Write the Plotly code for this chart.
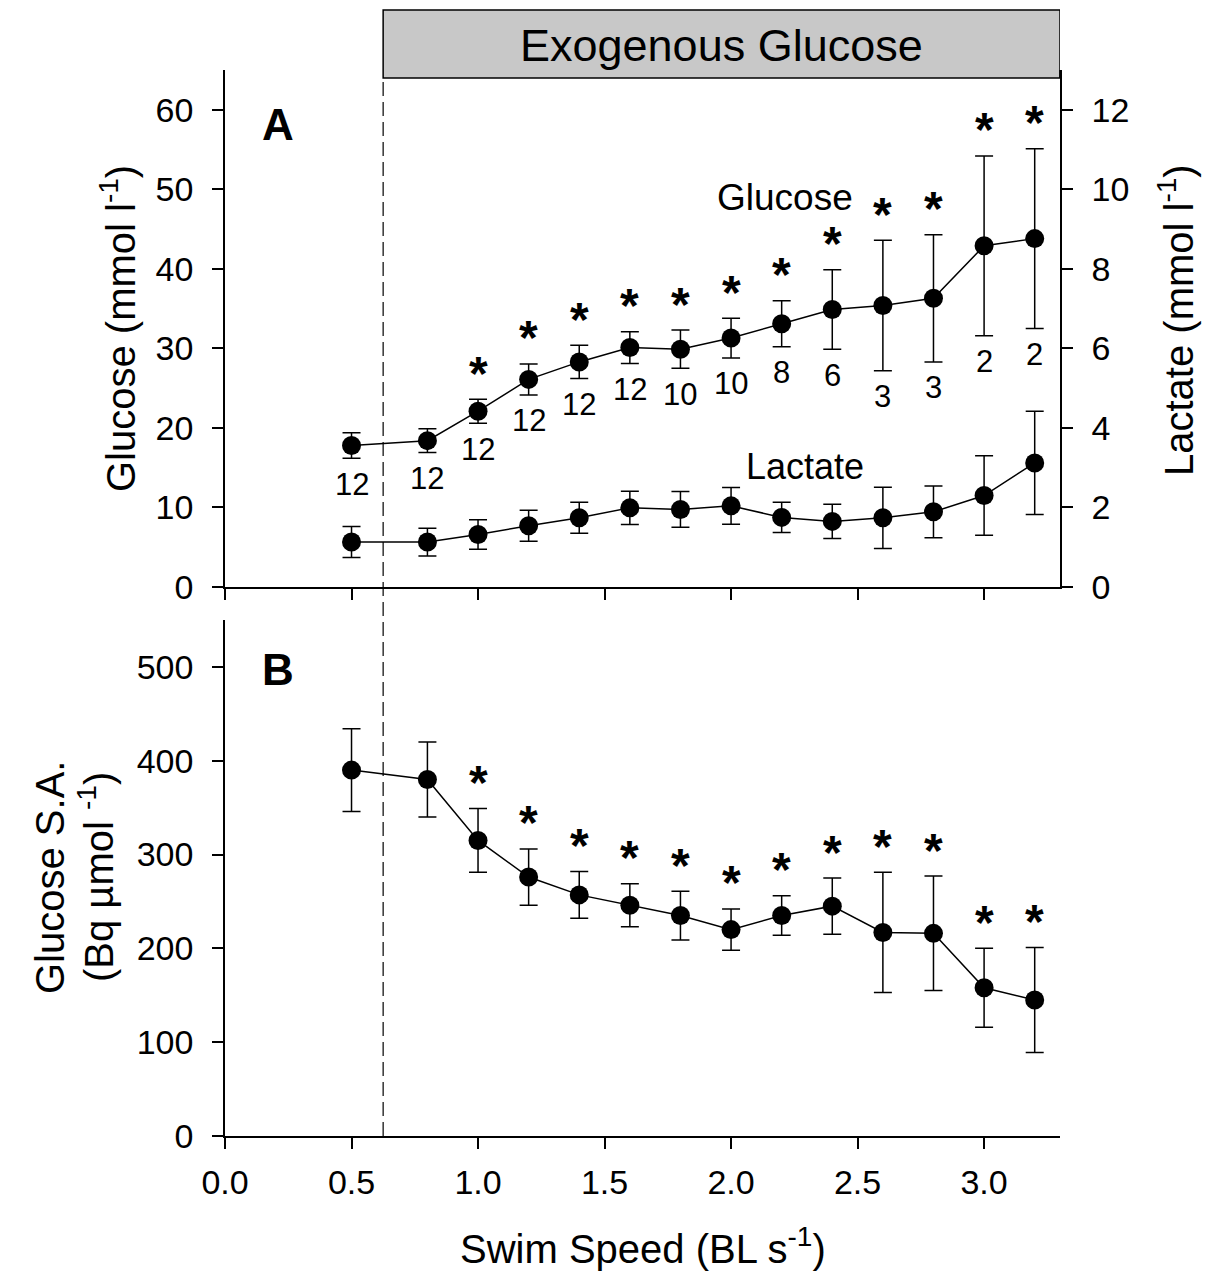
import plotly.graph_objects as go

# ---------------- data ----------------
speed = [0.5, 0.8, 1.0, 1.2, 1.4, 1.6, 1.8, 2.0, 2.2, 2.4, 2.6, 2.8, 3.0, 3.2]

glucose = [17.8, 18.4, 22.1, 26.1, 28.3, 30.1, 29.9, 31.3, 33.1, 34.9, 35.4, 36.3, 42.9, 43.8]
glucose_err = [1.6, 1.5, 1.5, 1.95, 2.1, 2.0, 2.4, 2.5, 2.9, 5.0, 8.2, 8.0, 11.3, 11.3]

lactate = [1.13, 1.13, 1.32, 1.54, 1.74, 1.99, 1.95, 2.04, 1.75, 1.65, 1.74, 1.89, 2.30, 3.12]
lactate_err = [0.39, 0.35, 0.37, 0.39, 0.39, 0.42, 0.45, 0.46, 0.38, 0.43, 0.77, 0.65, 1.0, 1.3]

glucose_sa = [390, 380, 315, 276, 257, 246, 235, 220, 235, 245, 217, 216, 158, 145]
glucose_sa_err = [44, 40, 34, 30, 25, 23, 26, 22, 21, 30, 64, 61, 42, 56]

n_labels = ["12", "12", "12", "12", "12", "12", "10", "10", "8", "6", "3", "3", "2", "2"]
sig_A = [False, False, True, True, True, True, True, True, True, True, True, True, True, True]
sig_B = [False, False, True, True, True, True, True, True, True, True, True, True, True, True]

EXO_START = 0.625
X_RANGE = [0, 3.3]
x_ticks = [0.0, 0.5, 1.0, 1.5, 2.0, 2.5, 3.0]
gluc_ticks = [0, 10, 20, 30, 40, 50, 60]
lac_ticks = [0, 2, 4, 6, 8, 10, 12]
sa_ticks = [0, 100, 200, 300, 400, 500]

# ---------------- layout geometry ----------------
PAGE_PAD = 8               # default body margin of the html page
W, H = 1210 - 2 * PAGE_PAD, 1279 - 2 * PAGE_PAD
def px(xp):
    return (xp - PAGE_PAD) / W
def py(yp):
    return 1 - (yp - PAGE_PAD) / H

FONT = "Liberation Sans, Arial, sans-serif"
TICKF = 34
TITLEF = 40

dom_x = [px(225), px(1060)]
dom_A = [py(587), py(70)]
dom_B = [py(1136), py(620)]

fig = go.Figure()

marker = dict(size=19, color="black")
line = dict(color="black", width=1.5)

def eb(arr):
    return dict(type="data", array=arr, visible=True, color="black", thickness=1.5, width=9)

fig.add_trace(go.Scatter(x=speed, y=glucose, mode="lines+markers", marker=marker, line=line,
                         error_y=eb(glucose_err), xaxis="x", yaxis="y", showlegend=False))
fig.add_trace(go.Scatter(x=speed, y=lactate, mode="lines+markers", marker=marker, line=line,
                         error_y=eb(lactate_err), xaxis="x", yaxis="y2", showlegend=False))
fig.add_trace(go.Scatter(x=speed, y=glucose_sa, mode="lines+markers", marker=marker, line=line,
                         error_y=eb(glucose_sa_err), xaxis="x2", yaxis="y3", showlegend=False))

axis_common = dict(showline=True, linecolor="black", linewidth=1.5, ticks="outside",
                   ticklen=11, tickwidth=1.5, tickcolor="black", showgrid=False, zeroline=False,
                   automargin=False,
                   tickfont=dict(family=FONT, size=TICKF, color="black"))

fig.update_layout(
    width=W, height=H, margin=dict(l=0, r=0, t=0, b=0, autoexpand=False),
    paper_bgcolor="white", plot_bgcolor="rgba(0,0,0,0)",
    font=dict(family=FONT, color="black"),
    xaxis=dict(domain=dom_x, range=X_RANGE, tickvals=x_ticks, showticklabels=False,
               anchor="y", **axis_common),
    yaxis=dict(domain=dom_A, range=[0, 65], tickvals=gluc_ticks, anchor="x",
               ticklabelstandoff=12, **axis_common),
    yaxis2=dict(range=[0, 13], tickvals=lac_ticks, overlaying="y", side="right", anchor="x",
                ticklabelstandoff=12, **axis_common),
    xaxis2=dict(domain=dom_x, range=X_RANGE, tickvals=x_ticks, tickformat=".1f", anchor="y3",
                ticklabelstandoff=4, **axis_common),
    yaxis3=dict(domain=dom_B, range=[0, 550], tickvals=sa_ticks, anchor="x2",
                ticklabelstandoff=12, **axis_common),
)

shapes = []
# grey header box
shapes.append(dict(type="rect", xref="x", yref="paper", x0=EXO_START, x1=X_RANGE[1],
                   y0=py(78), y1=py(10), fillcolor="#c8c8c8",
                   line=dict(color="black", width=1.5), layer="above"))
# dashed divider
shapes.append(dict(type="line", xref="x", yref="paper", x0=EXO_START, x1=EXO_START,
                   y0=dom_B[0], y1=py(78), line=dict(color="black", width=1.2, dash="14px,6px")))
# right axis upward extension to box
shapes.append(dict(type="line", xref="x", yref="paper", x0=X_RANGE[1], x1=X_RANGE[1],
                   y0=dom_A[1], y1=py(78), line=dict(color="black", width=1.5)))
fig.update_layout(shapes=shapes)

ann = []
def txt(text, x, y, size, xref="paper", yref="paper", angle=0, bold=False, **kw):
    d = dict(text=("<b>%s</b>" % text) if bold else text, x=x, y=y, xref=xref, yref=yref,
             showarrow=False, textangle=angle, xanchor="center", yanchor="middle",
             font=dict(family=FONT, size=size, color="black"))
    d.update(kw)
    ann.append(d)

txt("Exogenous Glucose", px(721.5), py(45), 45)
txt("A", px(278), py(124), 44, bold=True)
txt("B", px(278), py(669), 44, bold=True)
txt("Glucose (mmol l<sup>-1</sup>)", px(118), py(329), TITLEF, angle=-90)
txt("Lactate (mmol l<sup>-1</sup>)", px(1176), py(320), TITLEF, angle=-90)
txt("Glucose S.A.", px(50), py(878), TITLEF, angle=-90)
txt("(Bq µmol <sup>-1</sup>)", px(96), py(877), TITLEF, angle=-90)
txt("Swim Speed (BL s<sup>-1</sup>)", px(642.5), py(1246), TITLEF)
txt("Glucose", 2.215, 49.0, 37, xref="x", yref="y")
txt("Lactate", 2.294, 15.2, 36, xref="x", yref="y")

for i, s in enumerate(speed):
    txt(n_labels[i], s, glucose[i] - glucose_err[i], 31, xref="x", yref="y", yshift=-26)
    if sig_A[i]:
        txt("<b>*</b>", s, glucose[i] + glucose_err[i], 48, xref="x", yref="y", yshift=26)
    if sig_B[i]:
        txt("<b>*</b>", s, glucose_sa[i] + glucose_sa_err[i], 48, xref="x2", yref="y3", yshift=26)

fig.update_layout(annotations=ann)
fig.write_html("out.html")
